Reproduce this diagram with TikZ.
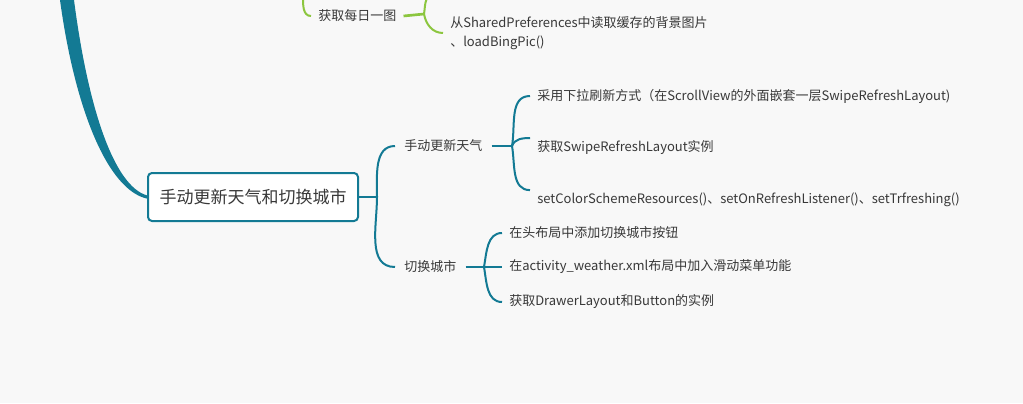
\documentclass[tikz,border=0pt]{standalone}
\usepackage{fontspec}
\setmainfont{Noto Sans CJK SC}
\usepackage{tikz}
\definecolor{bgGray}{HTML}{F8F8F8}
\definecolor{mapTeal}{HTML}{137A94}
\definecolor{mapGreen}{HTML}{8CC63F}
\definecolor{txtGray}{HTML}{383838}
\tikzset{
    topic/.style = {
        draw=mapTeal,
        fill=white,
        shape=rectangle,
        rounded corners=3pt,
        minimum width=157.5pt,
        minimum height=36pt,
        line width=1.5pt,
        text=txtGray,
        font=\fontsize{12.75}{15}\selectfont
    },
    subtopic/.style = {
        shape=rectangle,
        anchor=west,
        inner xsep=6.75pt,
        inner ysep=2pt,
        text=txtGray,
        font=\fontsize{9.75}{14}\selectfont
    },
    leaf/.style = {
        shape=rectangle,
        anchor=west,
        align=left,
        inner xsep=5.25pt,
        inner ysep=2pt,
        text=txtGray,
        font=\fontsize{9.75}{14.25}\selectfont
    },
    stem/.style = {
        draw=mapTeal,
        line width=2pt
    },
    branch/.style = {
        draw=mapTeal,
        line width=1.5pt
    },
    gstem/.style = {
        draw=mapGreen,
        line width=2pt
    },
    gbranch/.style = {
        draw=mapGreen,
        line width=1.5pt
    },
}
\begin{document}
\begin{tikzpicture}[x=0.75pt,y=0.75pt]
                \fill[bgGray] (0,0) rectangle (1023,-403);
                \useasboundingbox (0,0) rectangle (1023,-403);
                \clip (0,0) rectangle (1023,-403);

                \node[topic] (main) at (253,-197) {手动更新天气和切换城市};
                \node[subtopic] (hand) at (395,-146) {手动更新天气};
                \node[subtopic] (city) at (395,-267) {切换城市};
                \node[subtopic, inner xsep=5.25pt] (bing) at (311,-16) {获取每日一图};

                \node[leaf] (cache) at (443,-33) {从SharedPreferences中读取缓存的背景图片\\、loadBingPic()};
                \node[leaf] (pull) at (530,-96) {采用下拉刷新方式（在ScrollView的外面嵌套一层SwipeRefreshLayout)};
                \node[leaf] (swipe) at (530,-148) {获取SwipeRefreshLayout实例};
                \node[leaf] (setcol) at (530,-200) {setColorSchemeResources()、setOnRefreshListener()、setTrfreshing()};
                \node[leaf] (btn) at (502,-233) {在头布局中添加切换城市按钮};
                \node[leaf] (menu) at (502,-267) {在activity\_weather.xml布局中加入滑动菜单功能};
                \node[leaf] (drawer) at (502,-302) {获取DrawerLayout和Button的实例};

                \coordinate (trunkl) at (60,0);
                \coordinate (trunkr) at (74,0);
                \coordinate (groot) at (303,4);
                \coordinate (gup) at (432,4);
                \coordinate (jm) at (377,-197);
                \coordinate (jh) at (512,-146);
                \coordinate (jc) at (484,-267);
                \coordinate (jt) at (424,-14);

                \fill[mapTeal] (trunkl) .. controls (75,-110) and (108,-190) .. ([yshift=-1.2pt]main.west)
                    -- ([yshift=1.2pt]main.west) .. controls (114,-186) and (88,-108) .. (trunkr) -- cycle;

                \path[stem] (main.east) -- (jm);
                \path[branch] (jm) to[out=90,in=180] (hand.west);
                \path[branch] (jm) to[out=-90,in=180] (city.west);

                \path[stem] (hand.east) -- (jh);
                \path[branch] (jh) to[out=80,in=180] (pull.west);
                \path[branch] (jh) to[out=70,in=180] (swipe.north west);
                \path[branch] (jh) to[out=-80,in=180] (setcol.north west);

                \path[stem] (city.east) -- (jc);
                \path[branch] (jc) to[out=80,in=180] (btn.west);
                \path[branch] (jc) -- (menu.west);
                \path[branch] (jc) to[out=-80,in=180] (drawer.west);

                \path[gbranch] (groot) to[out=-90,in=180] (bing.west);
                \path[gstem] (bing.east) -- (jt);
                \path[gbranch] (jt) to[out=80,in=180] (gup);
                \path[gbranch] (jt) to[out=-80,in=180] (cache.west);
            \end{tikzpicture}
\end{document}
